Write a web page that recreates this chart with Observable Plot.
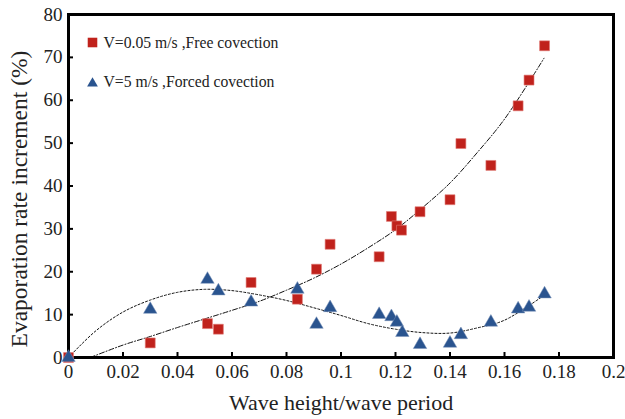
<!DOCTYPE html>
<html><head><meta charset="utf-8">
<script src="https://cdn.jsdelivr.net/npm/d3@7"></script>
<script src="https://cdn.jsdelivr.net/npm/@observablehq/plot@0.6"></script>
<style>
body{margin:0;background:#fff}
#chart svg{font-family:"Liberation Serif","DejaVu Serif",serif}
</style>
</head><body><div id="chart"></div>
<script>
// Series 1: V=0.05 m/s, free convection (red squares)
const freeX = [0, 0.030, 0.051, 0.055, 0.067, 0.084, 0.091, 0.096, 0.114, 0.1185, 0.1205, 0.1222, 0.129, 0.140, 0.144, 0.155, 0.165, 0.169, 0.1747];
const freeY = [0, 3.4, 7.9, 6.6, 17.5, 13.6, 20.6, 26.4, 23.5, 32.9, 30.7, 29.7, 34.0, 36.8, 49.9, 44.8, 58.7, 64.7, 72.7];
// Series 2: V=5 m/s, forced convection (blue triangles)
const forcedX = [0, 0.030, 0.051, 0.055, 0.067, 0.084, 0.091, 0.096, 0.114, 0.1185, 0.1205, 0.1225, 0.129, 0.140, 0.144, 0.155, 0.165, 0.169, 0.1747];
const forcedY = [0, 11.2, 18.2, 15.5, 12.9, 15.9, 7.7, 11.6, 10.0, 9.5, 8.2, 5.8, 3.0, 3.3, 5.3, 8.2, 11.3, 11.7, 14.8];
// Trend curves
const freeTrendX = [0.008, 0.02, 0.03, 0.04, 0.05, 0.06, 0.07, 0.08, 0.09, 0.10, 0.11, 0.12, 0.13, 0.14, 0.15, 0.16, 0.1745];
const freeTrendY = [0, 2.9, 4.9, 7.0, 9.0, 11.0, 13.1, 15.7, 18.5, 21.8, 25.6, 29.8, 35.0, 40.7, 47.8, 55.6, 69.8];
const forcedTrendX = [0, 0.01, 0.02, 0.03, 0.04, 0.05, 0.06, 0.07, 0.08, 0.09, 0.10, 0.11, 0.12, 0.13, 0.14, 0.15, 0.16, 0.1745];
const forcedTrendY = [0, 6.2, 10.6, 13.4, 15.2, 15.9, 15.6, 14.6, 13.3, 11.6, 9.8, 7.9, 6.6, 5.8, 5.7, 6.9, 8.7, 14.5];
// Axes
const xTicks = [0, 0.02, 0.04, 0.06, 0.08, 0.1, 0.12, 0.14, 0.16, 0.18, 0.2];
const xTickLabels = ["0", "0.02", "0.04", "0.06", "0.08", "0.1", "0.12", "0.14", "0.16", "0.18", "0.2"];
const yTicks = [0, 10, 20, 30, 40, 50, 60, 70, 80];
const yTickLabels = ["0", "10", "20", "30", "40", "50", "60", "70", "80"];
const xTitle = "Wave height/wave period";
const yTitle = "Evaporation rate increment (%)";
const seriesNames = ["V=0.05 m/s ,Free covection", "V=5 m/s ,Forced covection"];

const RED = "#C0221C", BLUE = "#2A548F", INK = "#222";
const free = freeX.map((x, i) => ({x, y: freeY[i]}));
const forced = forcedX.map((x, i) => ({x, y: forcedY[i]}));
const freeTrend = freeTrendX.map((x, i) => ({x, y: freeTrendY[i]}));
const forcedTrend = forcedTrendX.map((x, i) => ({x, y: forcedTrendY[i]}));

const chart = Plot.plot({
  width: 625, height: 419,
  marginLeft: 68, marginRight: 12, marginTop: 14, marginBottom: 62,
  style: {fontFamily: "Liberation Serif", color: INK, background: "#fff"},
  x: {domain: [0, 0.2]},
  y: {domain: [0, 80]},
  marks: [
    Plot.line(freeTrend, {x: "x", y: "y", curve: "catmull-rom", stroke: "#111", strokeWidth: 1, strokeDasharray: "5,2,1,2"}),
    Plot.line(forcedTrend, {x: "x", y: "y", curve: "catmull-rom", stroke: "#111", strokeWidth: 1, strokeDasharray: "2,2"}),
    Plot.ruleX(xTicks, {x: d => d, y1: d => 0, y2: d => 0, insetBottom: 5, stroke: "black", strokeWidth: 2}),
    Plot.ruleY(yTicks, {y: d => d, x1: d => 0, x2: d => 0, insetRight: -5, stroke: "black", strokeWidth: 2}),
    Plot.frame({stroke: "black", strokeWidth: 3}),
    Plot.axisX({ticks: xTicks, tickFormat: d => xTickLabels[xTicks.indexOf(d)], tickSize: 0, tickPadding: 7, fontSize: 19, label: null, fill: INK}),
    Plot.axisY({ticks: yTicks, tickFormat: d => yTickLabels[yTicks.indexOf(d)], tickSize: 0, tickPadding: 6, fontSize: 19, label: null, fill: INK}),
    Plot.text([xTitle], {frameAnchor: "bottom", dy: 52, fontSize: 22, fill: INK}),
    Plot.text([yTitle], {frameAnchor: "left", textAnchor: "middle", lineAnchor: "middle", rotate: -90, dx: -49, dy: 13, fontSize: 23.5, fill: INK}),
    Plot.dot(free, {x: "x", y: "y", symbol: "square", r: 5.6, fill: RED, stroke: "#E07a76", strokeWidth: 0.6}),
    Plot.dot(forced, {x: "x", y: "y", symbol: "triangle", r: 5, fill: BLUE, stroke: "#7a93b8", strokeWidth: 0.5}),
    Plot.dot([seriesNames[0]], {frameAnchor: "top-left", dx: 24, dy: 28, symbol: "square", r: 5.4, fill: RED}),
    Plot.dot([seriesNames[1]], {frameAnchor: "top-left", dx: 24, dy: 69, symbol: "triangle", r: 4, fill: BLUE}),
    Plot.text([seriesNames[0]], {frameAnchor: "top-left", lineAnchor: "middle", dx: 35, dy: 28, textAnchor: "start", fontSize: 15.7, fill: INK}),
    Plot.text([seriesNames[1]], {frameAnchor: "top-left", lineAnchor: "middle", dx: 35, dy: 67, textAnchor: "start", fontSize: 15.7, fill: INK})
  ]
});
document.getElementById("chart").append(chart);
</script>
</body></html>
